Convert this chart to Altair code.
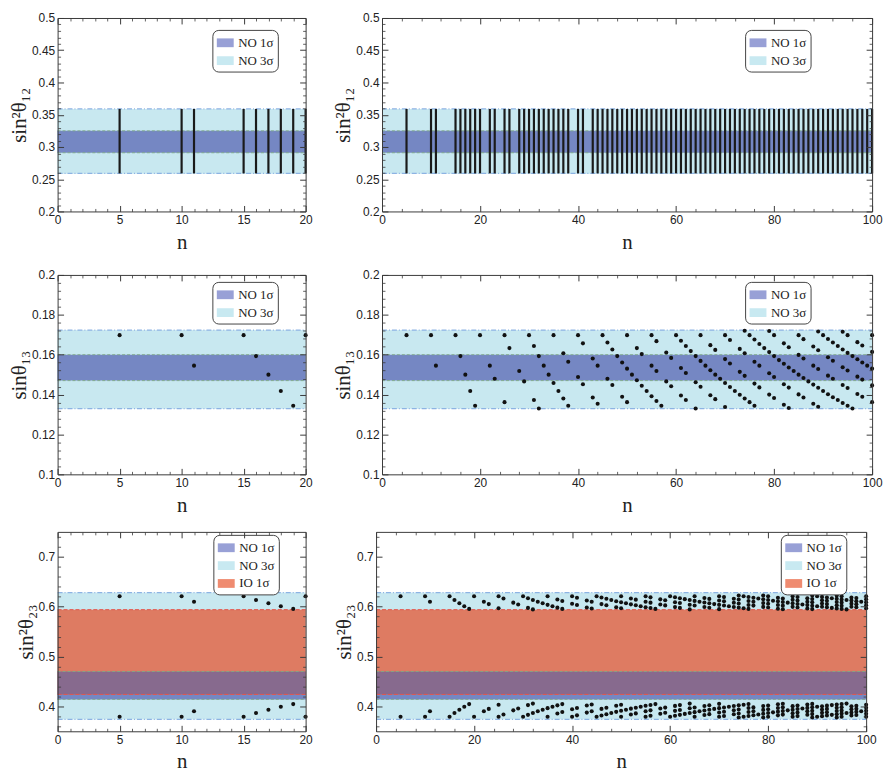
import altair as alt
import pandas as pd

# ---------------- band limits ----------------
S12_1SIG = [0.291, 0.325]
S12_3SIG = [0.259, 0.359]
S13_1SIG = [0.1470, 0.1600]
S13_3SIG = [0.1330, 0.1723]
S23_NO_1SIG = [0.414, 0.470]
S23_NO_3SIG = [0.374, 0.628]
S23_IO_1SIG = [0.424, 0.594]

# ---------------- solutions: n, sin(theta13), sin^2(theta23) upper / lower ----------------
n_pts = [
    5, 10, 11, 15, 16, 17, 18, 19, 20, 22, 23,
    25, 25, 26, 28, 29, 30, 31, 31, 32, 32, 33, 34, 35, 35, 36, 37, 37, 38, 38,
    40, 40, 41, 41, 43, 43, 44, 44, 45, 46, 46, 47, 47, 48, 49, 49,
    50, 50, 50, 51, 52, 52, 53, 53, 54, 55, 55, 55, 56, 56, 56, 57, 58, 58, 59, 59,
    60, 61, 61, 61, 62, 62, 62, 63, 64, 64, 64, 65, 65, 65, 66, 67, 67, 67, 68, 68, 68, 69,
    70, 70, 70, 70, 71, 71, 71, 72, 73, 73, 73, 74, 74, 74, 74, 75, 75, 76, 76, 76, 76, 77, 77, 77, 78, 79, 79, 79, 79,
    80, 80, 80, 80, 81, 82, 82, 82, 82, 83, 83, 83, 83, 84, 85, 85, 85, 85, 86, 86, 86, 86, 87, 88, 88, 88, 88, 89, 89, 89, 89, 89,
    90, 90, 91, 91, 91, 91, 92, 92, 92, 92, 93, 93, 94, 94, 94, 94, 94, 95, 95, 95, 95, 95, 96, 96, 97, 97, 97, 97, 98, 98, 98, 98, 99, 100, 100, 100, 100, 100,
]

sin_t13 = [
    0.1698, 0.1698, 0.1545, 0.1698, 0.1593, 0.1500, 0.1418, 0.1344, 0.1698, 0.1545, 0.1479,
    0.1362, 0.1698, 0.1633, 0.1518, 0.1466, 0.1698, 0.1373, 0.1644, 0.1330, 0.1593, 0.1545, 0.1500, 0.1458, 0.1698, 0.1418, 0.1380, 0.1607, 0.1344, 0.1565,
    0.1488, 0.1698, 0.1452, 0.1657, 0.1385, 0.1581, 0.1354, 0.1545, 0.1698, 0.1479, 0.1661, 0.1448, 0.1626, 0.1593, 0.1389, 0.1561,
    0.1362, 0.1530, 0.1698, 0.1500, 0.1472, 0.1633, 0.1444, 0.1603, 0.1418, 0.1392, 0.1545, 0.1698, 0.1368, 0.1518, 0.1668, 0.1344, 0.1466, 0.1611, 0.1442, 0.1584,
    0.1698, 0.1395, 0.1533, 0.1670, 0.1373, 0.1508, 0.1644, 0.1618, 0.1330, 0.1462, 0.1593, 0.1439, 0.1569, 0.1698, 0.1545, 0.1397, 0.1522, 0.1648, 0.1377, 0.1500, 0.1624, 0.1479,
    0.1338, 0.1458, 0.1578, 0.1698, 0.1438, 0.1556, 0.1674, 0.1418, 0.1399, 0.1514, 0.1629, 0.1380, 0.1494, 0.1607, 0.1720, 0.1362, 0.1698, 0.1344, 0.1455, 0.1565, 0.1676, 0.1436, 0.1545, 0.1654, 0.1633, 0.1400, 0.1507, 0.1613, 0.1719,
    0.1383, 0.1488, 0.1593, 0.1698, 0.1573, 0.1349, 0.1452, 0.1555, 0.1657, 0.1333, 0.1435, 0.1536, 0.1637, 0.1518, 0.1401, 0.1500, 0.1599, 0.1698, 0.1385, 0.1483, 0.1581, 0.1678, 0.1466, 0.1354, 0.1450, 0.1545, 0.1641, 0.1339, 0.1434, 0.1528, 0.1622, 0.1716,
    0.1418, 0.1698, 0.1402, 0.1495, 0.1587, 0.1679, 0.1387, 0.1479, 0.1570, 0.1661, 0.1373, 0.1644, 0.1358, 0.1448, 0.1537, 0.1626, 0.1715, 0.1344, 0.1433, 0.1521, 0.1609, 0.1698, 0.1330, 0.1593, 0.1403, 0.1490, 0.1577, 0.1663, 0.1389, 0.1475, 0.1561, 0.1646, 0.1545, 0.1362, 0.1446, 0.1530, 0.1614, 0.1698,
]

s23_up = [
    0.6209, 0.6209, 0.6099, 0.6209, 0.6134, 0.6067, 0.6008, 0.5955, 0.6209, 0.6099, 0.6051,
    0.5967, 0.6209, 0.6163, 0.6080, 0.6042, 0.6209, 0.5975, 0.6170, 0.5945, 0.6134, 0.6099, 0.6067, 0.6036, 0.6209, 0.6008, 0.5980, 0.6144, 0.5955, 0.6114,
    0.6058, 0.6209, 0.6032, 0.6180, 0.5984, 0.6125, 0.5962, 0.6099, 0.6209, 0.6051, 0.6183, 0.6029, 0.6158, 0.6134, 0.5987, 0.6110,
    0.5967, 0.6088, 0.6209, 0.6067, 0.6046, 0.6163, 0.6027, 0.6141, 0.6008, 0.5989, 0.6099, 0.6209, 0.5972, 0.6080, 0.6187, 0.5955, 0.6042, 0.6147, 0.6025, 0.6127,
    0.6209, 0.5991, 0.6090, 0.6189, 0.5975, 0.6073, 0.6170, 0.6151, 0.5945, 0.6039, 0.6134, 0.6023, 0.6116, 0.6209, 0.6099, 0.5993, 0.6083, 0.6173, 0.5978, 0.6067, 0.6156, 0.6051,
    0.5950, 0.6036, 0.6123, 0.6209, 0.6022, 0.6107, 0.6192, 0.6008, 0.5994, 0.6077, 0.6159, 0.5980, 0.6062, 0.6144, 0.6225, 0.5967, 0.6209, 0.5955, 0.6034, 0.6114, 0.6193, 0.6021, 0.6099, 0.6178, 0.6163, 0.5995, 0.6071, 0.6148, 0.6224,
    0.5982, 0.6058, 0.6134, 0.6209, 0.6120, 0.5958, 0.6032, 0.6106, 0.6180, 0.5947, 0.6020, 0.6093, 0.6165, 0.6080, 0.5996, 0.6067, 0.6138, 0.6209, 0.5984, 0.6054, 0.6125, 0.6195, 0.6042, 0.5962, 0.6031, 0.6099, 0.6168, 0.5951, 0.6019, 0.6087, 0.6155, 0.6223,
    0.6008, 0.6209, 0.5997, 0.6063, 0.6129, 0.6196, 0.5986, 0.6051, 0.6117, 0.6183, 0.5975, 0.6170, 0.5965, 0.6029, 0.6093, 0.6158, 0.6222, 0.5955, 0.6018, 0.6082, 0.6145, 0.6209, 0.5945, 0.6134, 0.5997, 0.6060, 0.6122, 0.6184, 0.5987, 0.6049, 0.6110, 0.6172, 0.6099, 0.5967, 0.6028, 0.6088, 0.6149, 0.6209,
]

s23_dn = [
    0.3791, 0.3791, 0.3901, 0.3791, 0.3866, 0.3933, 0.3992, 0.4045, 0.3791, 0.3901, 0.3949,
    0.4033, 0.3791, 0.3837, 0.3920, 0.3958, 0.3791, 0.4025, 0.3830, 0.4055, 0.3866, 0.3901, 0.3933, 0.3964, 0.3791, 0.3992, 0.4020, 0.3856, 0.4045, 0.3886,
    0.3942, 0.3791, 0.3968, 0.3820, 0.4016, 0.3875, 0.4038, 0.3901, 0.3791, 0.3949, 0.3817, 0.3971, 0.3842, 0.3866, 0.4013, 0.3890,
    0.4033, 0.3912, 0.3791, 0.3933, 0.3954, 0.3837, 0.3973, 0.3859, 0.3992, 0.4011, 0.3901, 0.3791, 0.4028, 0.3920, 0.3813, 0.4045, 0.3958, 0.3853, 0.3975, 0.3873,
    0.3791, 0.4009, 0.3910, 0.3811, 0.4025, 0.3927, 0.3830, 0.3849, 0.4055, 0.3961, 0.3866, 0.3977, 0.3884, 0.3791, 0.3901, 0.4007, 0.3917, 0.3827, 0.4022, 0.3933, 0.3844, 0.3949,
    0.4050, 0.3964, 0.3877, 0.3791, 0.3978, 0.3893, 0.3808, 0.3992, 0.4006, 0.3923, 0.3841, 0.4020, 0.3938, 0.3856, 0.3775, 0.4033, 0.3791, 0.4045, 0.3966, 0.3886, 0.3807, 0.3979, 0.3901, 0.3822, 0.3837, 0.4005, 0.3929, 0.3852, 0.3776,
    0.4018, 0.3942, 0.3866, 0.3791, 0.3880, 0.4042, 0.3968, 0.3894, 0.3820, 0.4053, 0.3980, 0.3907, 0.3835, 0.3920, 0.4004, 0.3933, 0.3862, 0.3791, 0.4016, 0.3946, 0.3875, 0.3805, 0.3958, 0.4038, 0.3969, 0.3901, 0.3832, 0.4049, 0.3981, 0.3913, 0.3845, 0.3777,
    0.3992, 0.3791, 0.4003, 0.3937, 0.3871, 0.3804, 0.4014, 0.3949, 0.3883, 0.3817, 0.4025, 0.3830, 0.4035, 0.3971, 0.3907, 0.3842, 0.3778, 0.4045, 0.3982, 0.3918, 0.3855, 0.3791, 0.4055, 0.3866, 0.4003, 0.3940, 0.3878, 0.3816, 0.4013, 0.3951, 0.3890, 0.3828, 0.3901, 0.4033, 0.3972, 0.3912, 0.3851, 0.3791,
]

assert len(n_pts) == len(sin_t13) == len(s23_up) == len(s23_dn)

LEG_DOMAIN = ["NO 1σ", "NO 3σ", "IO 1σ"]
LEG_RANGE = ["#98a0d6", "#c8e9f1", "#ef8b70"]
C_NO1 = "#7587c3"
C_NO3 = "#c8e8f0"
C_IO1 = "#de7b62"
C_OVL = "#876a8e"

SANS = "Liberation Sans"
SERIF = "Liberation Serif"
FRAME = "#3a3a3a"

W_LEFT, W_RIGHT = 250, 494
ROW_H = [195, 201, 201]


def tick_list(lo, hi, step):
    k = int(round((hi - lo) / step))
    return [round(lo + i * step, 5) for i in range(k + 1)]


def minor_of(major, lo, hi, step):
    ms = set(round(v, 5) for v in major)
    return [v for v in tick_list(lo, hi, step) if round(v, 5) not in ms]


def axis_major(orient, values, title=None, labels=True, title_pad=6):
    kw = dict(orient=orient, values=values, labels=labels, domain=True,
              domainColor=FRAME, domainWidth=1, grid=False, ticks=True,
              tickSize={"expr": "-6"}, tickColor=FRAME, tickWidth=1,
              labelFont=SANS, labelFontSize=12, labelColor="#222",
              labelPadding=9, format=".2~f", labelFlush=False,
              labelOverlap=False, zindex=2, title=title, minExtent=0)
    if title is not None:
        kw.update(titleFont=SERIF, titleFontSize=21, titleFontWeight="normal",
                  titleColor="#222", titlePadding=title_pad)
    return alt.Axis(**kw)


def axis_minor(orient, values):
    return alt.Axis(orient=orient, values=values, labels=False, title=None,
                    domain=False, grid=False, ticks=True,
                    tickSize={"expr": "-3"}, tickColor=FRAME, tickWidth=0.8,
                    zindex=2, minExtent=0)


def make_panel(row, xmax, width, height, legend_x, legend_y):
    xs = alt.Scale(domain=[0, xmax], nice=False, zero=False)
    if xmax == 20:
        xmaj = tick_list(0, 20, 5)
        xmin = minor_of(xmaj, 0, 20, 1)
    else:
        xmaj = tick_list(0, 100, 20)
        xmin = minor_of(xmaj, 0, 100, 4)

    if row == 0:
        ydom = [0.2, 0.5]
        ymaj = tick_list(0.2, 0.5, 0.05)
        ymin = minor_of(ymaj, 0.2, 0.5, 0.01)
        ytitle = "sin²θ₁₂"
        vis = [(S12_3SIG, C_NO3), (S12_1SIG, C_NO1)]
        leg = [("NO 3σ", S12_3SIG), ("NO 1σ", S12_1SIG)]
        e3 = S12_3SIG
        e1 = S12_1SIG
    elif row == 1:
        ydom = [0.1, 0.2]
        ymaj = tick_list(0.1, 0.2, 0.02)
        ymin = minor_of(ymaj, 0.1, 0.2, 0.004)
        ytitle = "sinθ₁₃"
        vis = [(S13_3SIG, C_NO3), (S13_1SIG, C_NO1)]
        leg = [("NO 3σ", S13_3SIG), ("NO 1σ", S13_1SIG)]
        e3 = S13_3SIG
        e1 = S13_1SIG
    else:
        ydom = [0.35, 0.75]
        ymaj = tick_list(0.4, 0.7, 0.1)
        ymin = minor_of(ymaj, 0.36, 0.74, 0.02)
        ytitle = "sin²θ₂₃"
        overlap = [S23_IO_1SIG[0], S23_NO_1SIG[1]]
        vis = [(S23_NO_3SIG, C_NO3), (S23_NO_1SIG, C_NO1),
               (S23_IO_1SIG, C_IO1), (overlap, C_OVL)]
        leg = [("NO 3σ", S23_NO_3SIG), ("NO 1σ", S23_NO_1SIG),
               ("IO 1σ", S23_IO_1SIG)]
        e3 = S23_NO_3SIG
        e1 = S23_NO_1SIG
    ys = alt.Scale(domain=ydom, nice=False, zero=False)

    band_df = pd.DataFrame({"x0": 0, "x1": xmax,
                            "y": [b[0][0] for b in vis],
                            "y2": [b[0][1] for b in vis],
                            "fill": [b[1] for b in vis]})
    leg_df = pd.DataFrame({"x0": 0, "x1": xmax,
                           "y": [b[1][0] for b in leg],
                           "y2": [b[1][1] for b in leg],
                           "label": [b[0] for b in leg]})
    ndom = LEG_DOMAIN[:len(leg)]
    nrng = LEG_RANGE[:len(leg)]

    legend_layer = alt.Chart(leg_df).mark_rect().encode(
        x=alt.X("x0:Q", scale=xs, axis=None), x2="x1:Q",
        y=alt.Y("y:Q", scale=ys, axis=None), y2="y2:Q",
        color=alt.Color("label:N", scale=alt.Scale(domain=ndom, range=nrng),
                        legend=alt.Legend(
                            title=None, orient="none", legendX=legend_x,
                            legendY=legend_y, direction="vertical",
                            symbolType="M-1,-0.52H1V0.52H-1Z", symbolSize=290,
                            symbolStrokeWidth=0, symbolOpacity=1,
                            labelFont=SERIF, labelFontSize=13,
                            labelColor="#222", labelOffset=4,
                            strokeColor="#444", fillColor="white",
                            cornerRadius=6, padding=4, rowPadding=2)),
    )

    band_layer = alt.Chart(band_df).mark_rect().encode(
        x=alt.X("x0:Q", scale=xs,
                axis=axis_major("bottom", xmaj, title="n", title_pad=6)),
        x2="x1:Q",
        y=alt.Y("y:Q", scale=ys,
                axis=axis_major("left", ymaj, title=ytitle, title_pad=2)),
        y2="y2:Q",
        color=alt.Color("fill:N", scale=None),
    )

    e3_df = pd.DataFrame({"x0": 0, "x1": xmax, "y": e3})
    e1_df = pd.DataFrame({"x0": 0, "x1": xmax, "y": e1})
    edge3 = alt.Chart(e3_df).mark_rule(
        color="#8db3e3", strokeWidth=1.2, strokeDash=[5, 2, 1, 2]).encode(
        x=alt.X("x0:Q", scale=xs, axis=axis_major("top", xmaj, labels=False)),
        x2="x1:Q",
        y=alt.Y("y:Q", scale=ys, axis=axis_major("right", ymaj, labels=False)),
    )
    edge1 = alt.Chart(e1_df).mark_rule(
        color="#7faa86", strokeWidth=0.9, strokeDash=[3, 2]).encode(
        x=alt.X("x0:Q", scale=xs, axis=axis_minor("top", xmin)),
        x2="x1:Q",
        y=alt.Y("y:Q", scale=ys, axis=axis_minor("right", ymin)),
    )
    layers = [legend_layer, band_layer, edge3, edge1]

    if row == 2:
        eio_df = pd.DataFrame({"x0": 0, "x1": xmax, "y": S23_IO_1SIG})
        layers.append(alt.Chart(eio_df).mark_rule(
            color="#e4544c", strokeWidth=1, strokeDash=[4, 2]).encode(
            x=alt.X("x0:Q", scale=xs, axis=None), x2="x1:Q",
            y=alt.Y("y:Q", scale=ys, axis=None)))

    pts = pd.DataFrame({"n": n_pts, "s13": sin_t13, "up": s23_up, "dn": s23_dn})
    pts = pts[pts["n"] <= xmax]

    if row == 0:
        lines = pd.DataFrame({"n": sorted(set(pts["n"]))})
        lines["lo"] = S12_3SIG[0]
        lines["hi"] = S12_3SIG[1]
        marks = alt.Chart(lines).mark_rule(color="#1a1a1a", strokeWidth=2.2).encode(
            x=alt.X("n:Q", scale=xs, axis=axis_minor("bottom", xmin)),
            y=alt.Y("lo:Q", scale=ys, axis=axis_minor("left", ymin)),
            y2="hi:Q",
        )
    elif row == 1:
        marks = alt.Chart(pts).mark_circle(size=17, color="#111", opacity=1).encode(
            x=alt.X("n:Q", scale=xs, axis=axis_minor("bottom", xmin)),
            y=alt.Y("s13:Q", scale=ys, axis=axis_minor("left", ymin)),
        )
    else:
        long = pd.concat([
            pd.DataFrame({"n": pts["n"], "v": pts["up"]}),
            pd.DataFrame({"n": pts["n"], "v": pts["dn"]}),
        ])
        marks = alt.Chart(long).mark_circle(size=17, color="#111", opacity=1).encode(
            x=alt.X("n:Q", scale=xs, axis=axis_minor("bottom", xmin)),
            y=alt.Y("v:Q", scale=ys, axis=axis_minor("left", ymin)),
        )
    layers.append(marks)

    return alt.layer(*layers).resolve_axis(
        x="independent", y="independent").properties(width=width, height=height)


rows = []
legend_pos = {0: (156, 12, 366, 12), 1: (156, 7, 366, 7), 2: (157, 3, 408, 3)}
for r in range(3):
    lx, ly, rx, ry = legend_pos[r]
    left = make_panel(r, 20, W_LEFT, ROW_H[r], lx, ly)
    right = make_panel(r, 100, W_RIGHT, ROW_H[r], rx, ry)
    rows.append(alt.hconcat(left, right, spacing=19).resolve_scale(color="independent"))

chart = alt.vconcat(*rows, spacing=15).resolve_scale(color="independent").properties(
    padding={"left": 0, "top": 0, "right": 0, "bottom": 0}
).configure_view(stroke="transparent")

chart.save("out.html", embed_options={"renderer": "svg", "actions": False})
